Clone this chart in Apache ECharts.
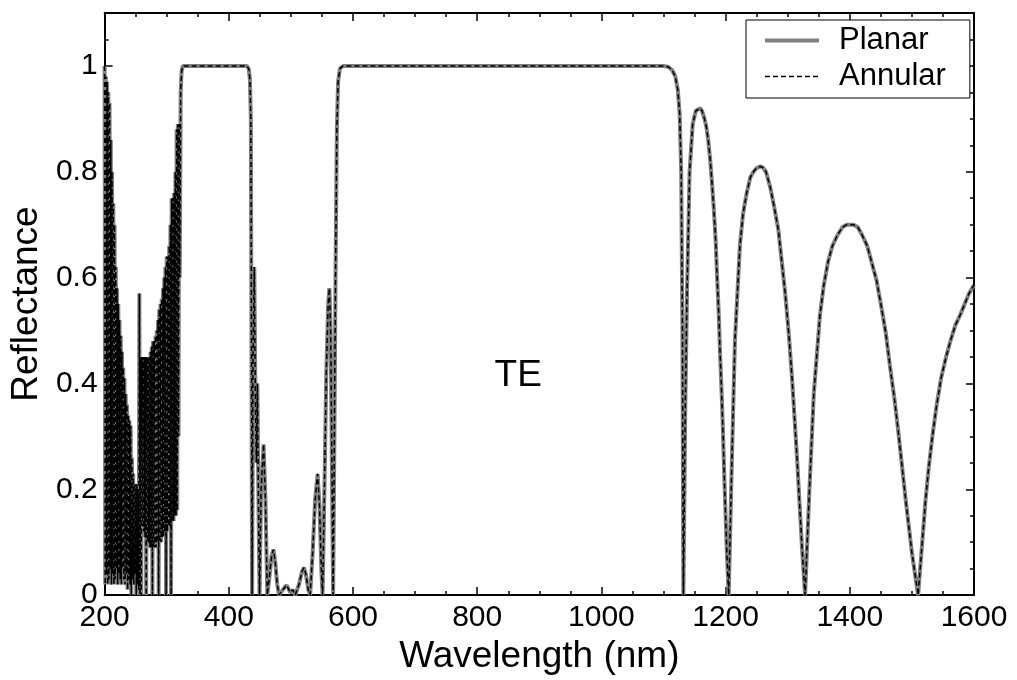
<!DOCTYPE html>
<html>
<head>
<meta charset="utf-8">
<script src="https://cdn.jsdelivr.net/npm/echarts@6/dist/echarts.min.js"></script>
<style>
html,body{margin:0;padding:0;background:#fff;}
#chart{width:1017px;height:680px;}
</style>
</head>
<body>
<div id="chart"></div>
<script>
// ---- Data ----
// Segment 1: dense UV oscillations (nm)
const uvWavelength = [
  200,201,202,203,204,205,206,207,208,209,210,211,212,213,214,215,216,217,218,219,220,221,222,223,224,225,226,227,228,229,
  230,231,232,233,234,235,236,237,238,239,240,241,242,243,244,245,246,247,248,249,250,251,252,253,254,255,256,257,
  258,259,260,261,262,263,264,265,266,267,268,269,270,271,272,273,274,275,276,277,278,279,280,281,282,283,284,285,286,287,288,289,
  290,291,292,293,294,295,296,297,298,299,300,301,302,303,304,305,306,307,308,309,310,311,312,313,314,315,316,317,318,319,320,321,322.5,324,326
];
const uvReflectance = [
  1.0,0.02,0.98,0.04,0.97,0.02,0.95,0.03,0.93,0.05,0.86,0.02,0.80,0.04,0.74,0.02,0.70,0.03,0.62,0.05,0.58,0.02,0.55,0.04,0.52,0.03,0.49,0.02,0.46,0.05,
  0.43,0.03,0.41,0.02,0.38,0.04,0.36,0.01,0.34,0.03,0.33,0.02,0.32,0.00,0.26,0.03,0.23,0.02,0.21,0.04,0.21,0.00,0.21,0.02,0.20,0.01,0.57,0.00,
  0.45,0.00,0.45,0.13,0.45,0.12,0.45,0.11,0.45,0.00,0.45,0.10,0.45,0.10,0.45,0.09,0.46,0.09,0.47,0.00,0.48,0.09,0.48,0.09,0.49,0.09,0.50,0.10,0.52,0.00,0.54,0.10,
  0.55,0.10,0.56,0.11,0.58,0.11,0.60,0.12,0.62,0.00,0.64,0.12,0.64,0.13,0.66,0.13,0.70,0.00,0.75,0.14,0.75,0.14,0.76,0.15,0.80,0.15,0.88,0.16,0.89,0.30,0.89,0.60,0.95,0.99,1.0
];
// Segment 2: first stop band and visible fringes (nm)
const visWavelength = [
  380,429,432,434,435.5,436.5,437.5,
  439,441,443,444.5,446,448,449.5,452,456,459,462,465,469,472,475,478,481,487,493,499,503,507,513,518,521,524,528,531,
  535,539,543,546,549,551,554,557,560,562,564,566,568,570,572,574,576,579,584
];
const visReflectance = [
  1.0,1.0,0.995,0.975,0.9,0.5,0.0,
  0.45,0.62,0.35,0.25,0.40,0.15,0.0,0.2,0.285,0.18,0.0,0.03,0.075,0.086,0.06,0.02,0.0,0.01,0.019,0.005,0.01,0.0,0.02,0.045,0.052,0.04,0.01,0.0,
  0.08,0.18,0.229,0.17,0.05,0.0,0.2,0.42,0.55,0.58,0.5,0.25,0.0,0.3,0.62,0.88,0.97,0.995,1.0
];
// Segment 3: main stop band and near-IR fringes (nm)
const irWavelength = [
  800,1000,1100,1108,1114,1119,1123,1126,1128.5,1130.5,1132,
  1135,1138,1142,1147,1152,1155,1159,1162,1166,1169,1172,1175,1178,1181,1184,1186,1189,1191,1194,1196,1198,1200,1202,1205,
  1210,1215,1223,1228,1234,1240,1245,1250,1256,1260,1265,1272,1278,1285,1290,1296,1302,1307,1311,1315,1319,1323,1328,
  1335,1342,1352,1358,1365,1372,1380,1388,1395,1406,1413,1420,1428,1435,1443,1450,1458,1465,1472,1478,1484,1490,1495,1500,1505,1510,
  1514,1518,1522,1527,1533,1540,1547,1555,1562,1570,1578,1585,1592,1600
];
const irReflectance = [
  1.0,1.0,1.0,0.998,0.992,0.98,0.955,0.91,0.80,0.5,0.0,
  0.35,0.58,0.80,0.89,0.915,0.918,0.92,0.915,0.90,0.885,0.86,0.825,0.78,0.73,0.67,0.61,0.53,0.46,0.37,0.30,0.22,0.15,0.08,0.0,
  0.25,0.48,0.66,0.72,0.76,0.79,0.80,0.807,0.81,0.808,0.80,0.77,0.735,0.69,0.635,0.57,0.49,0.41,0.335,0.26,0.175,0.09,0.0,
  0.2,0.38,0.53,0.585,0.63,0.66,0.68,0.695,0.70,0.70,0.695,0.68,0.66,0.63,0.595,0.55,0.495,0.43,0.37,0.31,0.245,0.18,0.13,0.08,0.04,0.0,
  0.06,0.12,0.18,0.24,0.30,0.36,0.41,0.45,0.48,0.51,0.53,0.55,0.57,0.586
];

const wavelength = uvWavelength.concat(visWavelength, irWavelength);
const planar = uvReflectance.concat(visReflectance, irReflectance);
// Annular structure coincides with the planar curve in the reference
const annular = planar.slice();

const xTicks = { min: 200, max: 1600, major: 200 };
const yTicks = { min: 0, max: 1.1, major: 0.2, minor: 0.05 };
const seriesNames = ['Planar', 'Annular'];
const annotation = { text: 'TE', x: 866, y: 0.415 };

// ---- Chart ----
const FONT = 'Liberation Sans, Arial, sans-serif';
const planarData = wavelength.map((w, i) => [w, planar[i]]);
const annularData = wavelength.map((w, i) => [w, annular[i]]);

const chart = echarts.init(document.getElementById('chart'), null, { renderer: 'canvas' });

const baseX = {
  type: 'value', min: xTicks.min, max: xTicks.max, interval: xTicks.major,
  splitLine: { show: false },
  axisLine: { show: true, onZero: false, lineStyle: { color: '#000', width: 2 } },
  axisTick: { show: true, inside: true, length: 8, lineStyle: { color: '#000', width: 1.5 } },
  minorTick: { show: true, splitNumber: 4, length: 4, lineStyle: { color: '#000', width: 1.5 } }
};
const baseY = {
  type: 'value', min: yTicks.min, max: yTicks.max, interval: yTicks.major,
  splitLine: { show: false },
  axisLine: { show: true, onZero: false, lineStyle: { color: '#000', width: 2 } },
  axisTick: { show: true, inside: true, length: 8, lineStyle: { color: '#000', width: 1.5 } }
};
const minorY = {
  type: 'value', min: yTicks.min, max: yTicks.max, interval: yTicks.minor,
  splitLine: { show: false },
  axisLine: { show: false },
  axisLabel: { show: false },
  axisTick: { show: true, inside: true, length: 4, lineStyle: { color: '#000', width: 1.5 } }
};

chart.setOption({
  animation: false,
  backgroundColor: '#fff',
  grid: { left: 104, right: 43, top: 13, bottom: 77, containLabel: false },
  legend: {
    data: seriesNames,
    orient: 'vertical',
    left: 746, top: 20,
    backgroundColor: '#fff',
    borderColor: '#000', borderWidth: 1, borderRadius: 0,
    padding: [5, 24, 6, 17],
    itemWidth: 54, itemHeight: 14, itemGap: 5,
    itemStyle: { opacity: 0 },
    lineStyle: { width: 'inherit' },
    textStyle: { fontSize: 31, fontFamily: FONT, color: '#000', lineHeight: 31, padding: [0, 0, 0, 15] }
  },
  xAxis: [
    Object.assign({}, baseX, {
      position: 'bottom',
      name: 'Wavelength (nm)', nameLocation: 'middle', nameGap: 34,
      nameTextStyle: { fontSize: 37, fontFamily: FONT, color: '#000' },
      axisLabel: { show: true, margin: 8, fontSize: 30, fontFamily: FONT, color: '#000', formatter: v => String(v) }
    }),
    Object.assign({}, baseX, { position: 'top', axisLabel: { show: false } })
  ],
  yAxis: [
    Object.assign({}, baseY, {
      position: 'left',
      name: 'Reflectance', nameLocation: 'middle', nameGap: 58,
      nameTextStyle: { fontSize: 37, fontFamily: FONT, color: '#000' },
      axisLabel: { show: true, margin: 7, fontSize: 30, fontFamily: FONT, color: '#000', showMaxLabel: false,
        formatter: v => (Math.abs(v - 1.1) < 1e-6 ? '' : String(+v.toFixed(2))) }
    }),
    Object.assign({}, minorY, { position: 'left' }),
    Object.assign({}, baseY, { position: 'right', axisLabel: { show: false } }),
    Object.assign({}, minorY, { position: 'right' })
  ],
  series: [
    {
      name: 'Planar', type: 'line', data: planarData, xAxisIndex: 0, yAxisIndex: 0,
      symbol: 'none', showSymbol: false, z: 2,
      lineStyle: { color: '#808080', width: 4 }, itemStyle: { color: '#808080' }
    },
    {
      name: 'Annular', type: 'line', data: annularData, xAxisIndex: 0, yAxisIndex: 0,
      symbol: 'none', showSymbol: false, z: 3,
      lineStyle: { color: '#000', width: 1.5, type: [5, 3] }, itemStyle: { color: '#000' }
    },
    {
      name: 'label', type: 'scatter', xAxisIndex: 0, yAxisIndex: 0,
      data: [[annotation.x, annotation.y]], symbolSize: 0, silent: true,
      itemStyle: { opacity: 1 },
      label: { show: true, position: 'inside', formatter: annotation.text, fontSize: 37, fontFamily: FONT, color: '#000', opacity: 1 }
    }
  ]
});
</script>
</body>
</html>
